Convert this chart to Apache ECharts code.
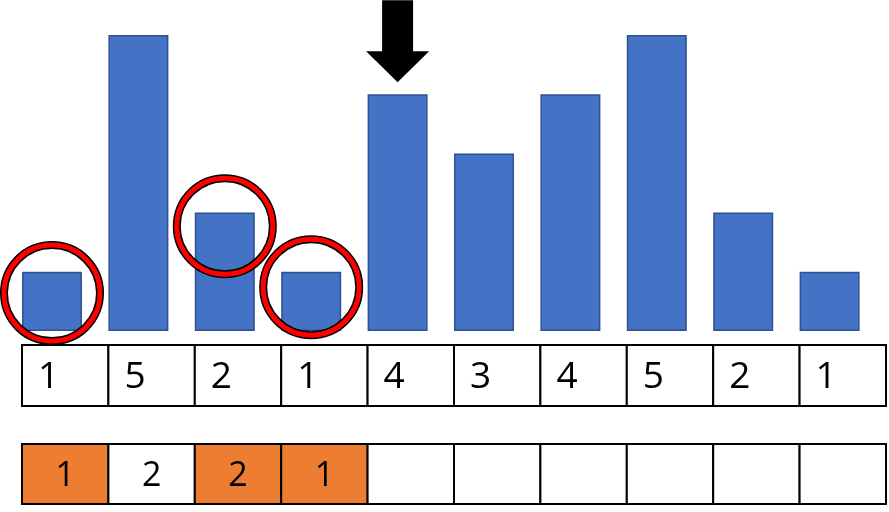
<!DOCTYPE html>
<html>
<head>
<meta charset="utf-8">
<script src="https://cdn.jsdelivr.net/npm/echarts@6/dist/echarts.min.js"></script>
<style>html,body{margin:0;padding:0;background:#fff}#c{width:889px;height:512px}</style>
</head>
<body>
<div id="c"></div>
<script>
const categories = ['0','1','2','3','4','5','6','7','8','9'];
const barValues = [1, 5, 2, 1, 4, 3, 4, 5, 2, 1];
const row2Values = ['1', '2', '2', '1', '', '', '', '', '', ''];
const row2Highlight = [1, 0, 1, 1, 0, 0, 0, 0, 0, 0];
const circleMarks = [[0, 0.64], [2, 1.77], [3, 0.74]];
const arrowIndex = 4;

const chart = echarts.init(document.getElementById('c'), null, {renderer: 'canvas'});

function cellRenderer(texts, fills, align, fontSize) {
  return function (params, api) {
    const i = api.value(0);
    const c = api.coord([i, 0]);
    const s = api.size([1, 1]);
    const x = c[0] - s[0] / 2, y = c[1] - s[1] / 2;
    return {
      type: 'group',
      children: [
        {type: 'rect', shape: {x: x, y: y, width: s[0], height: s[1]},
         style: {fill: fills[i], stroke: '#000', lineWidth: 2}},
        {type: 'text', style: {
          text: texts[i], x: align === 'left' ? x + 16 : x + s[0] / 2, y: c[1] + 2,
          align: align, verticalAlign: 'middle',
          fontSize: fontSize, fontFamily: 'Open Sans', fontWeight: 'normal', fill: '#000'}}
      ]
    };
  };
}

const row1Texts = barValues.map(String);
const row1Fills = barValues.map(() => '#ffffff');
const row2Fills = row2Highlight.map(h => h ? '#ed7d31' : '#ffffff');

chart.setOption({
  animation: false,
  backgroundColor: '#ffffff',
  grid: [
    {left: 8.8, width: 864, top: 35, height: 296},
    {left: 22, width: 864, top: 345, height: 61},
    {left: 22, width: 864, top: 444, height: 60}
  ],
  xAxis: [0, 1, 2].map(g => ({type: 'category', data: categories, gridIndex: g, show: false, boundaryGap: true})),
  yAxis: [
    {type: 'value', gridIndex: 0, min: 0, max: 5, show: false},
    {type: 'category', gridIndex: 1, data: ['r'], show: false},
    {type: 'category', gridIndex: 2, data: ['r'], show: false}
  ],
  series: [
    {type: 'bar', xAxisIndex: 0, yAxisIndex: 0, data: barValues, barWidth: 60,
     itemStyle: {color: '#4472c4', borderColor: '#2f528f', borderWidth: 1.5}, z: 2},
    {type: 'scatter', xAxisIndex: 0, yAxisIndex: 0, data: circleMarks, symbol: 'circle', symbolSize: 96,
     clip: false, itemStyle: {color: 'rgba(0,0,0,0)', borderColor: '#000', borderWidth: 8, opacity: 1}, z: 5, silent: true},
    {type: 'scatter', xAxisIndex: 0, yAxisIndex: 0, data: circleMarks, symbol: 'circle', symbolSize: 96,
     clip: false, itemStyle: {color: 'rgba(0,0,0,0)', borderColor: '#ff0000', borderWidth: 5, opacity: 1}, z: 6, silent: true},
    {type: 'scatter', xAxisIndex: 0, yAxisIndex: 0, data: [[arrowIndex, barValues[arrowIndex]]],
     symbol: 'path://M16,0 L47,0 L47,51 L63,51 L31.5,82 L0,51 L16,51 Z', symbolSize: [63, 82],
     symbolOffset: [0, -53], clip: false, itemStyle: {color: '#000', opacity: 1}, z: 6, silent: true},
    {type: 'custom', xAxisIndex: 1, yAxisIndex: 1, data: categories.map((c, i) => [i, 0]),
     renderItem: cellRenderer(row1Texts, row1Fills, 'left', 37), clip: false},
    {type: 'custom', xAxisIndex: 2, yAxisIndex: 2, data: categories.map((c, i) => [i, 0]),
     renderItem: cellRenderer(row2Values, row2Fills, 'center', 34), clip: false}
  ]
});
</script>
</body>
</html>
